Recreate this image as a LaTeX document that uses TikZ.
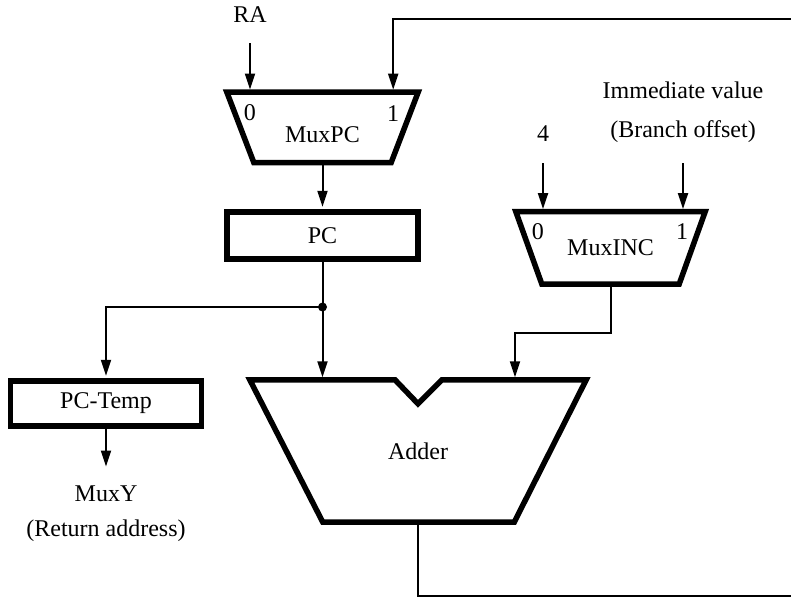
\documentclass[tikz,border=0pt]{standalone}
\usepackage{fontspec}
\setmainfont{Liberation Serif}
\usetikzlibrary{arrows.meta, positioning, calc}

\begin{document}
\begin{tikzpicture}[
    x=1pt, y=-1pt,
    font=\fontsize{24}{29}\selectfont,
    wire/.style={line width=2pt},
    arrow/.style={wire, -{Triangle[length=16pt, width=10pt]}, shorten >=2.5pt},
    box/.style={rectangle, draw, line width=5.5pt, minimum width=191pt, minimum height=47pt, inner sep=0pt},
    frame/.style={rectangle, inner sep=0pt},
    unit/.style={line width=5.5pt, line join=miter},
    sel/.style={inner sep=0pt}
]
    \useasboundingbox (0,0) rectangle (791,597);
    \clip (0,0) rectangle (791,597);

    % multiplexers
    \node[frame, minimum width=191pt, minimum height=70pt] (muxpc) at (322.5,127.3) {};
    \draw[unit] (muxpc.north west) -- (muxpc.north east) -- ([xshift=-27pt]muxpc.south east) -- ([xshift=27pt]muxpc.south west) -- cycle;
    \node (muxpc-t) at ([yshift=-7pt]muxpc.center) {MuxPC};
    \node[sel] (muxpc-0) at ([shift={(23,21)}]muxpc.north west) {0};
    \node[sel] (muxpc-1) at ([shift={(-25,21)}]muxpc.north east) {1};

    \node[frame, minimum width=189pt, minimum height=72pt] (muxinc) at (610.5,247.8) {MuxINC};
    \draw[unit] (muxinc.north west) -- (muxinc.north east) -- ([xshift=-26pt]muxinc.south east) -- ([xshift=26pt]muxinc.south west) -- cycle;
    \node[sel] (muxinc-0) at ([shift={(22,20)}]muxinc.north west) {0};
    \node[sel] (muxinc-1) at ([shift={(-23,20)}]muxinc.north east) {1};

    % registers
    \node[box] (pc) at (322.5,235.5) {PC};
    \node[box, minimum height=45pt] (pctemp) at (106,403.5) {PC-Temp};

    % adder
    \node[frame, minimum width=336pt, minimum height=142pt] (adder) at (418,451) {Adder};
    \draw[unit] (adder.north west) -- ([xshift=-23pt]adder.north) -- ([yshift=-24pt]adder.north) -- ([xshift=24pt]adder.north)
        -- (adder.north east) -- ([xshift=-72pt]adder.south east) -- ([xshift=73pt]adder.south west) -- cycle;

    % outside signals
    \node (ra) at (250,15) {RA};
    \node (four) at (543,134) {4};
    \node[align=center] (imm) at (683,112) {Immediate value\\[10pt](Branch offset)};
    \node[align=center] (muxy) at (106,514) {MuxY\\[6pt](Return address)};

    \coordinate (ra-in) at (250,43);
    \coordinate (four-in) at (543,163);
    \coordinate (imm-in) at (683,163);
    \coordinate (split) at (322.5,307);
    \coordinate (muxy-in) at (106,469);
    \coordinate (inc-turn) at (515,333);
    \coordinate (fb-low) at (419,596);
    \coordinate (fb-high) at (800,19);

    \draw[arrow] (ra-in) -- (ra-in |- muxpc.north);
    \draw[arrow] (adder.south) -- (adder.south |- fb-low) -- (fb-high |- fb-low) -- (fb-high) -- (muxpc-1 |- fb-high) -- (muxpc-1 |- muxpc.north);
    \draw[arrow] (muxpc.south) -- (pc.north);
    \draw[wire] (pc.south) -- (split);
    \fill (split) circle (4.5pt);
    \draw[arrow] (split) -| (pctemp.north);
    \draw[arrow] (split) -- (split |- adder.north);
    \draw[arrow] (pctemp.south) -- (muxy-in);
    \draw[arrow] (four-in) -- (four-in |- muxinc.north);
    \draw[arrow] (imm-in) -- (imm-in |- muxinc.north);
    \draw[arrow] (muxinc.south) |- (inc-turn) -- (inc-turn |- adder.north);
\end{tikzpicture}
\end{document}
